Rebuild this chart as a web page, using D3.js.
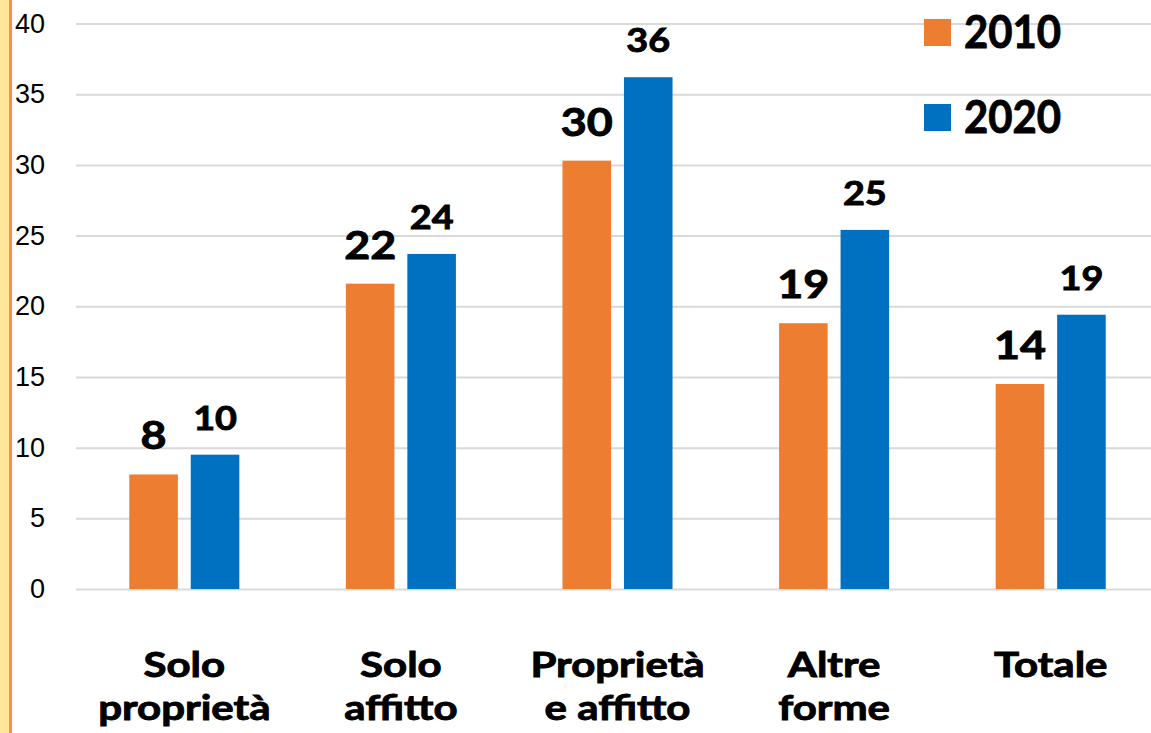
<!DOCTYPE html>
<html>
<head>
<meta charset="utf-8">
<script src="https://cdn.jsdelivr.net/npm/d3@7"></script>
<style>
  body { margin: 0; background: #fff; }
  svg { display: block; font-family: Lato, "Open Sans", sans-serif; }
  .grid .domain { display: none; }
  .grid line { stroke: #d9d9d9; stroke-width: 2; }
  .grid text { font-size: 27px; fill: #000; }
  .heavy { fill: #000; stroke: #000; stroke-width: 0.9; paint-order: stroke; }
</style>
</head>
<body>
<div class="chart"></div>
<script>
// data
var categories = [["Solo", "proprietà"], ["Solo", "affitto"], ["Proprietà", "e affitto"], ["Altre", "forme"], ["Totale"]];
var series = ["2010", "2020"];
var values2010 = [8.1, 21.6, 30.3, 18.8, 14.5];
var values2020 = [9.5, 23.7, 36.2, 25.4, 19.4];
var labels2010 = ["8", "22", "30", "19", "14"];
var labels2020 = ["10", "24", "36", "25", "19"];
var yTicks = [0, 5, 10, 15, 20, 25, 30, 35, 40];
var colors = ["#ED7D31", "#0070C0"];

var svgWidth = 1151;
var svgHeight = 733;

var svg = d3.select(".chart")
  .append("svg")
  .attr("width", svgWidth)
  .attr("height", svgHeight);

// left border strip
svg.append("rect")
  .attr("x", 0).attr("y", 0)
  .attr("width", 9).attr("height", svgHeight)
  .attr("fill", "#FFE699");
svg.append("rect")
  .attr("x", 9).attr("y", 0)
  .attr("width", 3).attr("height", svgHeight)
  .attr("fill", "#F4914A");

var plotLeft = 76;
var plotRight = 1159;

var yScale = d3.scaleLinear()
  .domain([0, 40])
  .range([589, 23.5]);

var x0 = d3.scaleBand()
  .domain(d3.range(categories.length))
  .range([plotLeft, plotRight])
  .paddingInner(0.492)
  .paddingOuter(0.246);

var x1 = d3.scaleBand()
  .domain(series)
  .range([0, x0.bandwidth()])
  .paddingInner(0.21);

// gridlines + tick labels
svg.append("g")
  .attr("class", "grid")
  .attr("transform", `translate(${plotLeft}, 0)`)
  .call(d3.axisLeft(yScale)
    .tickValues(yTicks)
    .tickSize(-(svgWidth - plotLeft))
    .tickPadding(31));

var rows = categories.map(function(c, i) {
  return {
    i: i,
    bars: [
      { s: "2010", v: values2010[i], label: labels2010[i], color: colors[0], size: 38 },
      { s: "2020", v: values2020[i], label: labels2020[i], color: colors[1], size: 32 }
    ]
  };
});

var groups = svg.selectAll(".group")
  .data(rows)
  .enter()
  .append("g")
  .attr("class", "group")
  .attr("transform", d => `translate(${x0(d.i)}, 0)`);

groups.selectAll("rect")
  .data(d => d.bars)
  .enter()
  .append("rect")
  .attr("x", d => x1(d.s))
  .attr("y", d => yScale(d.v))
  .attr("width", x1.bandwidth())
  .attr("height", d => yScale(0) - yScale(d.v))
  .attr("fill", d => d.color);

groups.selectAll(".label")
  .data(d => d.bars)
  .enter()
  .append("text")
  .attr("class", "label heavy")
  .attr("transform", d => `translate(${x1(d.s) + x1.bandwidth() / 2}, ${yScale(d.v) - 25}) scale(1.18, 1)`)
  .attr("text-anchor", "middle")
  .attr("font-weight", "bold")
  .attr("font-size", d => d.size + "px")
  .text(d => d.label);

// category labels
var catLabels = svg.selectAll(".cat")
  .data(categories)
  .enter()
  .append("text")
  .attr("class", "cat heavy")
  .attr("transform", (d, i) => `translate(${x0(i) + x0.bandwidth() / 2}, 677) scale(1.2, 1)`)
  .attr("text-anchor", "middle")
  .attr("font-weight", "bold")
  .attr("font-size", "35px");

catLabels.selectAll("tspan")
  .data(d => d)
  .enter()
  .append("tspan")
  .attr("x", 0)
  .attr("y", (d, i) => i * 43)
  .text(d => d);

// legend
var legend = svg.selectAll(".legend")
  .data(series)
  .enter()
  .append("g")
  .attr("class", "legend")
  .attr("transform", (d, i) => `translate(924, ${19 + i * 85})`);

legend.append("rect")
  .attr("width", 27)
  .attr("height", 27)
  .attr("fill", (d, i) => colors[i]);

legend.append("text")
  .attr("class", "heavy")
  .attr("transform", "translate(40, 29) scale(0.93, 1)")
  .attr("font-weight", "bold")
  .attr("font-size", "45px")
  .text(d => d);
</script>
</body>
</html>
